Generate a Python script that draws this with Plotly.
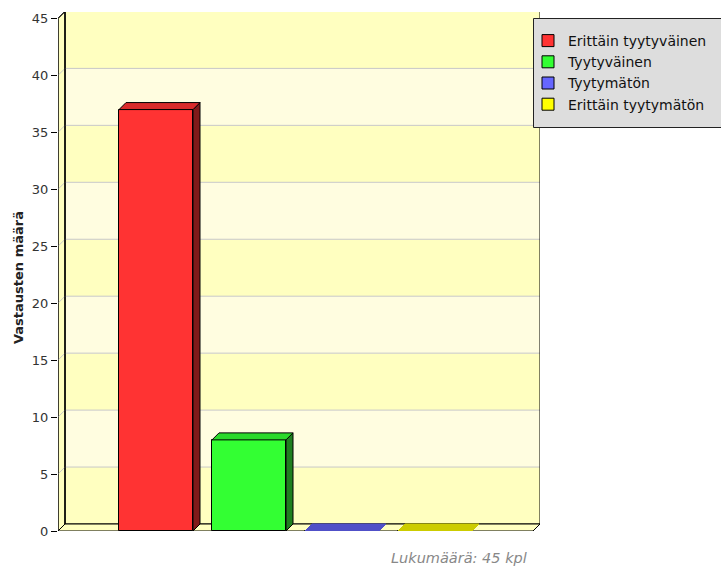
import plotly.graph_objects as go

# Survey answers: satisfaction counts per option
categories = ["Erittäin tyytyväinen", "Tyytyväinen", "Tyytymätön", "Erittäin tyytymätön"]
counts = [37, 8, 0, 0]
face_colors = ["#FF3333", "#33FF33", "#6666FF", "#FFFF00"]
top_colors = ["#D92B2B", "#2BD92B", "#5050C8", "#CCCC00"]
side_colors = ["#801A1A", "#1F7F1F", "#33337F", "#7F7F00"]
y_ticks = [0, 5, 10, 15, 20, 25, 30, 35, 40, 45]
y_title = "Vastausten määrä"
note_text = "Lukumäärä: 45 kpl"

# ---- canvas / pseudo-3D geometry (pixels) ----
W, H = 721, 570
M_L, M_R, M_T, M_B = 58, 181, 12, 39
PLOT_W = W - M_L - M_R
PLOT_H = H - M_T - M_B
SLOT_PX = 93.0          # distance between category centres
FIRST_PX = 98.0         # first category centre from plot left edge
COUNT_PX = 11.39        # pixels per answer
DEPTH_PX = 7.0          # 3D depth offset
BAR_PX = 74.0

x_lo = -FIRST_PX / SLOT_PX
x_hi = (PLOT_W - FIRST_PX) / SLOT_PX
y_hi = PLOT_H / COUNT_PX
dx = DEPTH_PX / SLOT_PX
dy = DEPTH_PX / COUNT_PX
bw = BAR_PX / SLOT_PX
y_top = y_ticks[-1]

WALL_A = "#FFFFC0"
WALL_B = "#FFFDE0"
GRID = "#C8C8C8"


def px_x(p):
    """canvas pixel column -> paper x"""
    return (p - M_L) / PLOT_W


def px_y(p):
    """canvas pixel row -> paper y"""
    return (PLOT_H + M_T - p) / PLOT_H


shapes = []


def poly(pts, fill, line_color="black", width=1):
    d = "M " + " L ".join(f"{px},{py}" for px, py in pts) + " Z"
    return dict(type="path", path=d, xref="x", yref="y", fillcolor=fill,
                line=dict(color=line_color, width=width), layer="below")


# back wall with alternating bands
for k in range(len(y_ticks) - 1):
    shapes.append(dict(type="rect", xref="x", yref="y", layer="below",
                       x0=x_lo + dx, x1=x_hi, y0=y_ticks[k] + dy, y1=y_ticks[k + 1] + dy,
                       fillcolor=WALL_A if k % 2 == 0 else WALL_B, line=dict(width=0)))
# left wall
shapes.append(poly([(x_lo, 0), (x_lo + dx, dy), (x_lo + dx, y_top + dy), (x_lo, y_top)], WALL_A))
# gridlines on back wall and left wall
for v in y_ticks[1:-1]:
    shapes.append(dict(type="line", xref="x", yref="y", layer="below",
                       x0=x_lo + dx, x1=x_hi, y0=v + dy, y1=v + dy,
                       line=dict(color=GRID, width=1)))
    shapes.append(dict(type="line", xref="x", yref="y", layer="below",
                       x0=x_lo, x1=x_lo + dx, y0=v, y1=v + dy,
                       line=dict(color=GRID, width=1)))
# back wall outline
shapes.append(dict(type="rect", xref="x", yref="y", layer="below",
                   x0=x_lo + dx, x1=x_hi, y0=dy, y1=y_top + dy,
                   fillcolor="rgba(0,0,0,0)", line=dict(color="black", width=1)))
# left wall outline again on top of the grid
shapes.append(poly([(x_lo, 0), (x_lo + dx, dy), (x_lo + dx, y_top + dy), (x_lo, y_top)],
                   "rgba(0,0,0,0)"))
# floor
shapes.append(poly([(x_lo, 0), (x_hi - dx, 0), (x_hi, dy), (x_lo + dx, dy)], WALL_A))

# legend panel (grey box running off the right edge)
shapes.append(dict(type="rect", xref="paper", yref="paper", layer="above",
                   x0=px_x(533.5), x1=px_x(724), y0=px_y(127.5), y1=px_y(18.5),
                   fillcolor="#DDDDDD", line=dict(color="#222222", width=1)))

fig = go.Figure()

# front faces of the bars
for i, (cat, val) in enumerate(zip(categories, counts)):
    fig.add_trace(go.Bar(
        x=[i], y=[val], width=bw, name=cat,
        marker=dict(color=face_colors[i], line=dict(color="black", width=1)),
        hovertemplate=f"{cat}: %{{y}}<extra></extra>",
    ))

# top and side faces
for i, val in enumerate(counts):
    xa, xb = i - bw / 2, i + bw / 2
    edge = "black" if val > 0 else top_colors[i]
    if val > 0:
        fig.add_trace(go.Scatter(
            x=[xb, xb + dx, xb + dx, xb, xb], y=[0, dy, val + dy, val, 0],
            mode="lines", fill="toself", fillcolor=side_colors[i],
            line=dict(color="black", width=1), showlegend=False, hoverinfo="skip"))
    fig.add_trace(go.Scatter(
        x=[xa, xa + dx, xb + dx, xb, xa], y=[val, val + dy, val + dy, val, val],
        mode="lines", fill="toself", fillcolor=top_colors[i],
        line=dict(color=edge, width=1), showlegend=False, hoverinfo="skip"))

fig.update_layout(
    width=W, height=H,
    margin=dict(l=M_L, r=M_R, t=M_T, b=M_B, pad=0, autoexpand=False),
    paper_bgcolor="white", plot_bgcolor="white",
    barmode="overlay", bargap=0,
    font=dict(family="DejaVu Sans", color="#333333"),
    showlegend=True,
    legend=dict(
        x=px_x(528), xanchor="left",
        y=px_y(25), yanchor="top",
        bgcolor="rgba(0,0,0,0)", borderwidth=0,
        font=dict(size=14, color="#111111", family="DejaVu Sans"),
        traceorder="normal",
    ),
    xaxis=dict(range=[x_lo, x_hi], visible=False, fixedrange=True),
    yaxis=dict(range=[0, y_hi], tickvals=y_ticks, ticks="outside", ticklen=6,
               tickcolor="black", tickwidth=1, showgrid=False, zeroline=False,
               showline=False, tickfont=dict(size=13, color="#333333"),
               fixedrange=True),
    shapes=shapes,
    annotations=[
        dict(text=f"<b>{y_title}</b>", textangle=-90, xref="paper", yref="paper",
             x=px_x(18), y=px_y(278),
             xanchor="center", yanchor="middle", showarrow=False,
             font=dict(size=13, color="#222222")),
        dict(text=f"<i>{note_text}</i>", xref="paper", yref="paper",
             x=px_x(529), y=px_y(558),
             xanchor="right", yanchor="middle", showarrow=False,
             font=dict(size=14.5, color="#888888")),
    ],
)

fig.write_html("out.html")
